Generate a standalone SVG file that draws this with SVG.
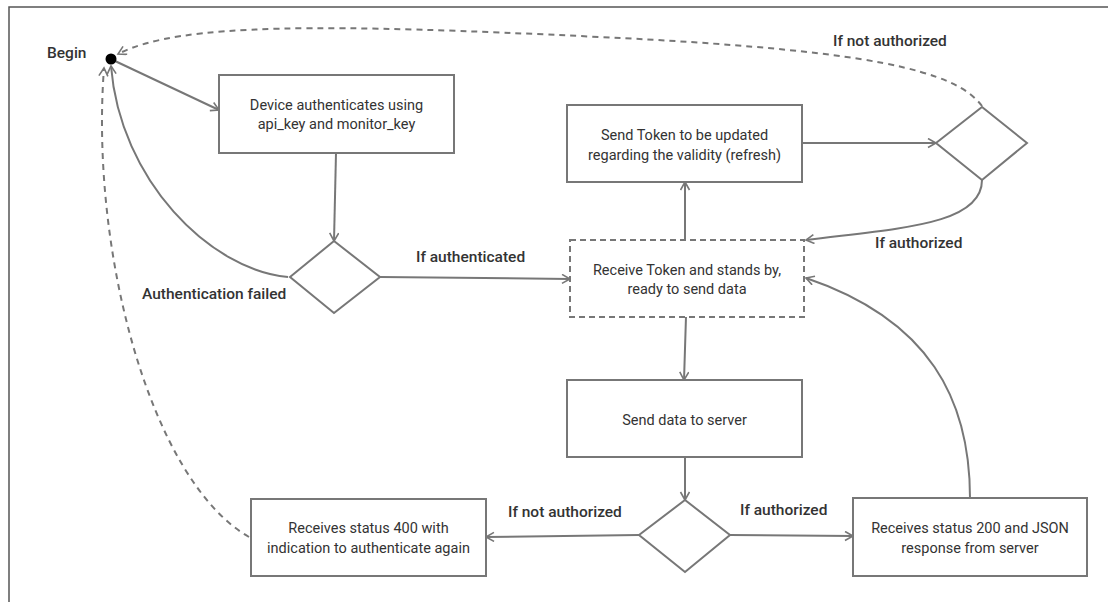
<svg xmlns="http://www.w3.org/2000/svg" width="1108" height="602" viewBox="0 0 1108 602">
<defs>
<marker id="arr" markerUnits="userSpaceOnUse" markerWidth="12" markerHeight="12" refX="9" refY="5" orient="auto">
<path d="M1,0.5 L9,5 L1,9.5" fill="none" stroke="#777" stroke-width="1.6"/>
</marker>
<style>
.box{fill:#fff;stroke:#777;stroke-width:2}
.dbox{fill:#fff;stroke:#777;stroke-width:2;stroke-dasharray:6,4}
.ln{fill:none;stroke:#777;stroke-width:2;marker-end:url(#arr)}
.dl{fill:none;stroke:#777;stroke-width:2;stroke-dasharray:6,5;marker-end:url(#arr)}
.t{font-family:Roboto,"Liberation Sans",sans-serif;font-size:14.5px;fill:#333;text-anchor:middle}
.lb{font-family:Roboto,"Liberation Sans",sans-serif;font-size:15.5px;font-weight:500;fill:#333}
</style>
</defs>
<rect width="1108" height="602" fill="#fff"/>
<path d="M9,602 L9,7 L1108,7" fill="none" stroke="#555" stroke-width="1.5"/>

<g id="connectors">
<path class="ln" d="M115,61 L219,110"/>
<path class="ln" d="M336,153 L334,241"/>
<path class="ln" d="M288,277 C210,270 120,180 111,66"/>
<path class="ln" d="M380,277 L570,279"/>
<path class="ln" d="M685,240 L685,182"/>
<path class="ln" d="M802,143 L936,143"/>
<path class="dl" d="M982,106 C955,70 870,50 600,37 S180,22 118,54"/>
<path class="ln" d="M982,180 C982,225 900,228 806,240"/>
<path class="ln" d="M686,317 L684,380"/>
<path class="ln" d="M685,457 L685,500"/>
<path class="ln" d="M730,535 L853,536"/>
<path class="ln" d="M639,535 L486,537"/>
<path class="ln" d="M970,498 C970,400 930,320 806,278"/>
<path class="dl" d="M249,537 C150,480 90,250 104,68"/>
</g>

<g id="begin">
<circle cx="111" cy="59" r="5.5" fill="#000"/>
<text class="lb" x="47" y="58">Begin</text>
</g>

<g id="device-auth">
<rect class="box" x="219" y="75" width="235" height="78"/>
<text class="t" x="336.5" y="110">Device authenticates using</text>
<text class="t" x="336.5" y="129">api_key and monitor_key</text>
</g>

<g id="auth-decision">
<polygon class="box" points="290,277 334,241 380,277 334,313"/>
</g>

<g id="send-token">
<rect class="box" x="567" y="105" width="235" height="77"/>
<text class="t" x="684.5" y="140">Send Token to be updated</text>
<text class="t" x="684.5" y="160">regarding the validity (refresh)</text>
</g>

<g id="refresh-decision">
<polygon class="box" points="936,143 982,107 1027,143 982,180"/>
</g>

<g id="receive-token">
<rect class="dbox" x="570" y="240" width="234" height="77"/>
<text class="t" x="687" y="275">Receive Token and stands by,</text>
<text class="t" x="687" y="294">ready to send data</text>
</g>

<g id="send-data">
<rect class="box" x="567" y="380" width="235" height="77"/>
<text class="t" x="684.5" y="425">Send data to server</text>
</g>

<g id="data-decision">
<polygon class="box" points="639,535 685,500 730,535 685,572"/>
</g>

<g id="status-200">
<rect class="box" x="853" y="498" width="234" height="78"/>
<text class="t" x="970" y="533">Receives status 200 and JSON</text>
<text class="t" x="970" y="553">response from server</text>
</g>

<g id="status-400">
<rect class="box" x="251" y="499" width="235" height="77"/>
<text class="t" x="368.5" y="533">Receives status 400 with</text>
<text class="t" x="368.5" y="553">indication to authenticate again</text>
</g>

<g id="labels">
<text class="lb" x="416" y="262">If authenticated</text>
<text class="lb" x="142" y="299">Authentication failed</text>
<text class="lb" x="833" y="46">If not authorized</text>
<text class="lb" x="875" y="248">If authorized</text>
<text class="lb" x="508" y="517">If not authorized</text>
<text class="lb" x="740" y="515">If authorized</text>
</g>
</svg>
